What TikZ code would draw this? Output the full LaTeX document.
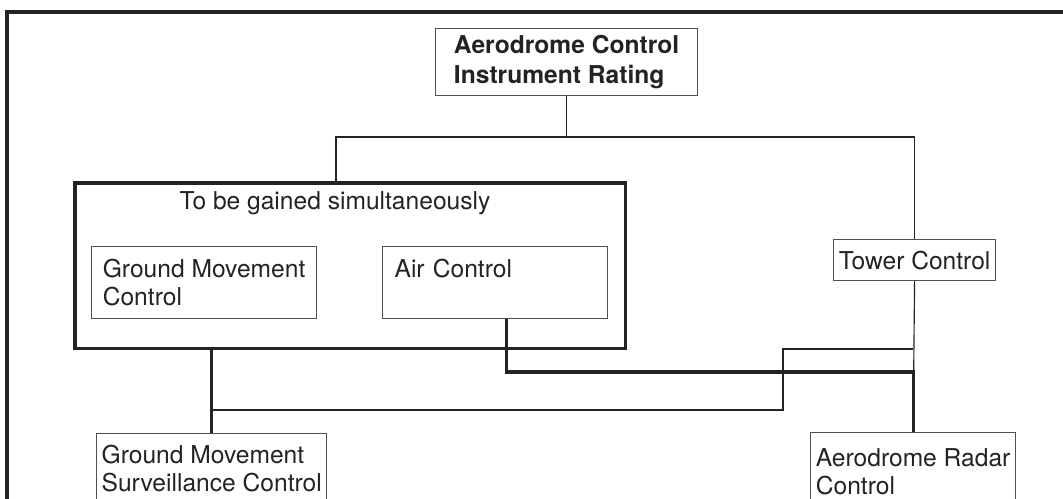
\documentclass[tikz,border=0pt]{standalone}
\usepackage{fontspec}
\setmainfont{TeX Gyre Heros}
\usepackage{tikz}
\usetikzlibrary{positioning,calc}
\usepackage{xcolor}
\definecolor{lineink}{RGB}{35,35,35}
\definecolor{boxink}{RGB}{80,80,80}

\tikzset{
  box/.style={draw=boxink,line width=0.7pt,inner xsep=0.1cm,inner ysep=0pt,
    align=left,anchor=north west,text=lineink,font=\fontsize{14pt}{16pt}\selectfont},
  conn/.style={draw=lineink,line width=0.65pt},
  thickconn/.style={draw=lineink,line width=1.8pt}
}

\begin{document}
\begin{tikzpicture}[x=0.02cm,y=-0.02cm]
    \useasboundingbox (0,0) rectangle (1063,499);

    % Frame
    \draw[lineink,line width=2pt] (7,530) -- (7,12) -- (1090,12);

    % Top box
    \node[box,font=\fontsize{14pt}{17pt}\selectfont\bfseries,
      minimum width=5.24cm,minimum height=1.34cm] (rating) at (435,28)
      {Aerodrome Control\\Instrument Rating};

    % Group to be gained simultaneously
    \node[draw=lineink,line width=2pt,minimum width=11.02cm,minimum height=3.32cm,
      anchor=north west,inner sep=0pt] (gain) at (73,181) {};
    \node[text=lineink,font=\fontsize{14pt}{16pt}\selectfont,inner sep=0pt]
      (gainlbl) at (335,203) {To be gained simultaneously};
    \node[box,minimum width=4.5cm,minimum height=1.44cm] (gmc) at (91,246)
      {Ground Movement\\Control};
    \node[box,inner xsep=0.24cm,text width=4.02cm,minimum height=1.44cm] (air) at (382,246)
      {Air Control\\\mbox{}};

    % Tower
    \node[box,align=center,minimum width=3.24cm,minimum height=0.82cm]
      (tower) at (833,239) {Tower Control};

    % Lower boxes
    \node[box,minimum width=4.54cm,minimum height=1.4cm] (gmsc) at (96,433)
      {Ground Movement\\Surveillance Control};
    \node[box,minimum width=4.1cm,minimum height=1.56cm] (radar) at (810,432)
      {Aerodrome Radar\\Control};

    % Thin connectors
    \coordinate (lbus) at (336,137);
    \coordinate (rbus) at (tower.north |- lbus);
    \draw[conn] (rating.south) -- (rating.south |- lbus);
    \draw[conn] (gain.north -| lbus) -- (lbus) -- (rbus) -- (tower.north);
    \draw[conn] (tower.south) -- (radar.north);
    \coordinate (tap) at (radar.north |- 0,349);
    \coordinate (gmsjoin) at (gmsc.north |- 0,410);
    \draw[conn] (tap) -| (783,410) -- (gmsjoin);

    % Thick connectors
    \draw[thickconn] (gmsc.north |- 0,350) -- (gmsc.north);
    \draw[thickconn] ([xshift=0.22cm]air.south) |- (radar.north |- 0,372) -- (radar.north);
\end{tikzpicture}
\end{document}
